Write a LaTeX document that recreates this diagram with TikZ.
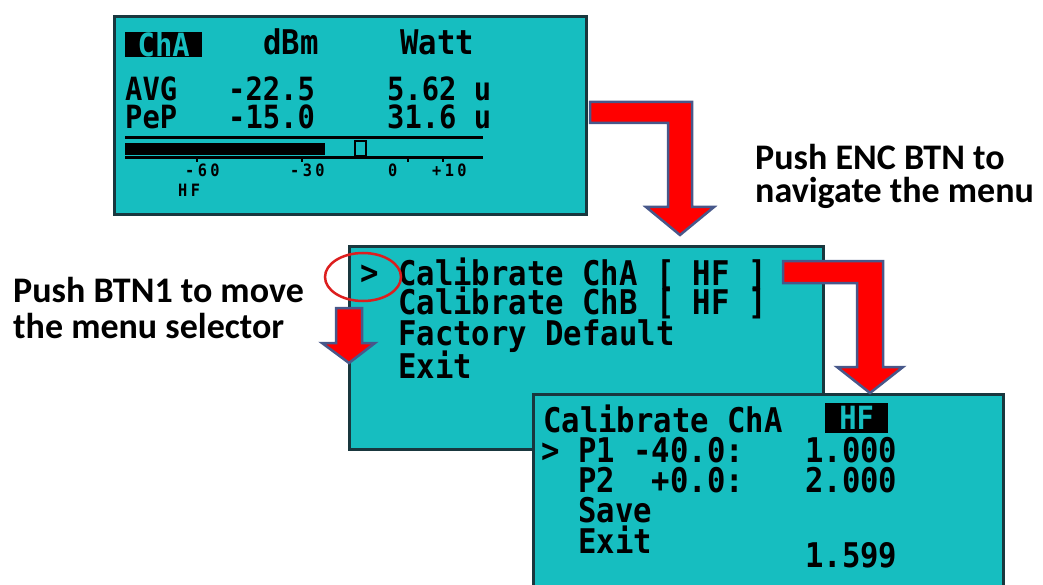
\documentclass[tikz,border=0pt]{standalone}
\usepackage{fontspec}
\setmainfont{Carlito}
\newfontfamily\lcdfont[FakeStretch=0.9]{DejaVu Sans Mono}

\definecolor{lcdcyan}{RGB}{22,190,192}
\definecolor{lcdframe}{RGB}{25,55,62}
\definecolor{arrowred}{RGB}{255,0,0}
\definecolor{arrowedge}{RGB}{72,88,138}
\definecolor{ringred}{RGB}{220,30,30}

\tikzset{
  lcd/.style={draw=lcdframe, line width=3pt, fill=lcdcyan, inner sep=0pt, anchor=north west},
  lcdtext/.style={anchor=base west, inner sep=0pt, text height=24pt, text depth=0pt, font=\lcdfont\bfseries\fontsize{34}{34}\selectfont},
  lcdrow/.style={anchor=base west, inner sep=0pt, text height=22pt, text depth=0pt, font=\lcdfont\bfseries\fontsize{32}{32}\selectfont},
  lcdsmall/.style={anchor=base west, inner sep=0pt, text height=12pt, text depth=0pt, font=\lcdfont\bfseries\fontsize{17}{17}\selectfont\addfontfeature{LetterSpace=20}},
  invbox/.style={anchor=north west, fill=black, text=lcdcyan, inner sep=0pt, font=\lcdfont\bfseries\fontsize{32}{32}\selectfont},
  caption/.style={anchor=base west, inner sep=0pt, text height=24pt, text depth=6pt, font=\bfseries\fontsize{36}{36}\selectfont},
  blockarrow/.style={fill=arrowred, draw=arrowedge, line width=2.5pt, line join=miter},
}

\begin{document}
\begin{tikzpicture}[x=1pt, y=-1pt]
    \clip (0,0) rectangle (1043,585);
    \fill[white] (0,0) rectangle (1043,585);

    % power meter screen
    \node[lcd, minimum width=472pt, minimum height=198pt] (meterscreen) at (113,15) {};
    \node[invbox, minimum width=77pt, minimum height=25pt] (chabox) at (125,32) {ChA};
    \node[lcdtext] (dbmhead) at (263,55) {dBm};
    \node[lcdtext] (watthead) at (400,55) {Watt};
    \node[lcdrow] (avglabel) at (125,101) {AVG};
    \node[lcdrow] (avgdbm) at (228,101) {-22.5};
    \node[lcdrow] (avgwatt) at (387,101) {5.62 u};
    \node[lcdrow] (peplabel) at (125,129) {PeP};
    \node[lcdrow] (pepdbm) at (228,129) {-15.0};
    \node[lcdrow] (pepwatt) at (387,129) {31.6 u};

    \draw[line width=3pt] (125,138) -- (483,138);
    \draw[line width=3pt] (125,158) -- (483,158);
    \fill (125,143) rectangle (325,155);
    \draw[line width=2.5pt] (355,141) rectangle (366,156);
    \draw[line width=2pt] (197,158) -- (197,162);
    \draw[line width=2pt] (302,158) -- (302,162);
    \draw[line width=2pt] (408,158) -- (408,162);
    \draw[line width=2pt] (443,158) -- (443,162);

    \node[lcdsmall] (scalesixty) at (185,177) {-60};
    \node[lcdsmall] (scalethirty) at (290,177) {-30};
    \node[lcdsmall] (scalezero) at (388,177) {0};
    \node[lcdsmall] (scaleten) at (432,177) {+10};
    \node[lcdsmall] (bandlabel) at (178,197) {HF};

    % menu screen
    \node[lcd, minimum width=474pt, minimum height=203pt] (menuscreen) at (348,245) {};
    \node[lcdtext] (menucursor) at (360,284) {>};
    \node[lcdtext] (menucala) at (398,285) {Calibrate ChA [ HF ]};
    \node[lcdtext] (menucalb) at (398,314) {Calibrate ChB [ HF ]};
    \node[lcdtext] (menufactory) at (398,345) {Factory Default};
    \node[lcdtext] (menuexit) at (398,378) {Exit};

    % calibration screen
    \node[lcd, minimum width=470pt, minimum height=210pt] (calscreen) at (532,393) {};
    \node[lcdtext] (caltitle) at (543,432) {Calibrate ChA};
    \node[invbox, minimum width=63pt, minimum height=30pt] (hfbox) at (825,403) {HF};
    \node[lcdtext] (calcursor) at (541,462) {>};
    \node[lcdtext] (pointone) at (578,462) {P1 -40.0:};
    \node[lcdtext] (valueone) at (805,462) {1.000};
    \node[lcdtext] (pointtwo) at (578,492) {P2\ \ +0.0:};
    \node[lcdtext] (valuetwo) at (805,492) {2.000};
    \node[lcdtext] (calsave) at (578,522) {Save};
    \node[lcdtext] (calexit) at (578,553) {Exit};
    \node[lcdtext] (calreading) at (805,567) {1.599};

    % arrows and marks
    \draw[blockarrow] (590,102) -- (692,102) -- (692,207) -- (714,207) -- (680,235) -- (646,207) -- (668,207) -- (668,123) -- (590,123) -- cycle;
    \draw[blockarrow] (783,261) -- (883,261) -- (883,367) -- (903,367) -- (870,393) -- (837,367) -- (857,367) -- (857,283) -- (783,283) -- cycle;
    \draw[blockarrow] (336,308) -- (362,308) -- (362,343) -- (375,343) -- (349,363) -- (322,343) -- (336,343) -- cycle;
    \coordinate (ringcenter) at (363,277);
    \draw[ringred, line width=2.5pt] (ringcenter) ellipse [x radius=38, y radius=24];

    \node[caption] (enclineone) at (755,170) {Push ENC BTN to};
    \node[caption] (enclinetwo) at (755,203) {navigate the menu};
    \node[caption] (btnlineone) at (13,302) {Push BTN1 to move};
    \node[caption] (btnlinetwo) at (13,338) {the menu selector};

\end{tikzpicture}
\end{document}
